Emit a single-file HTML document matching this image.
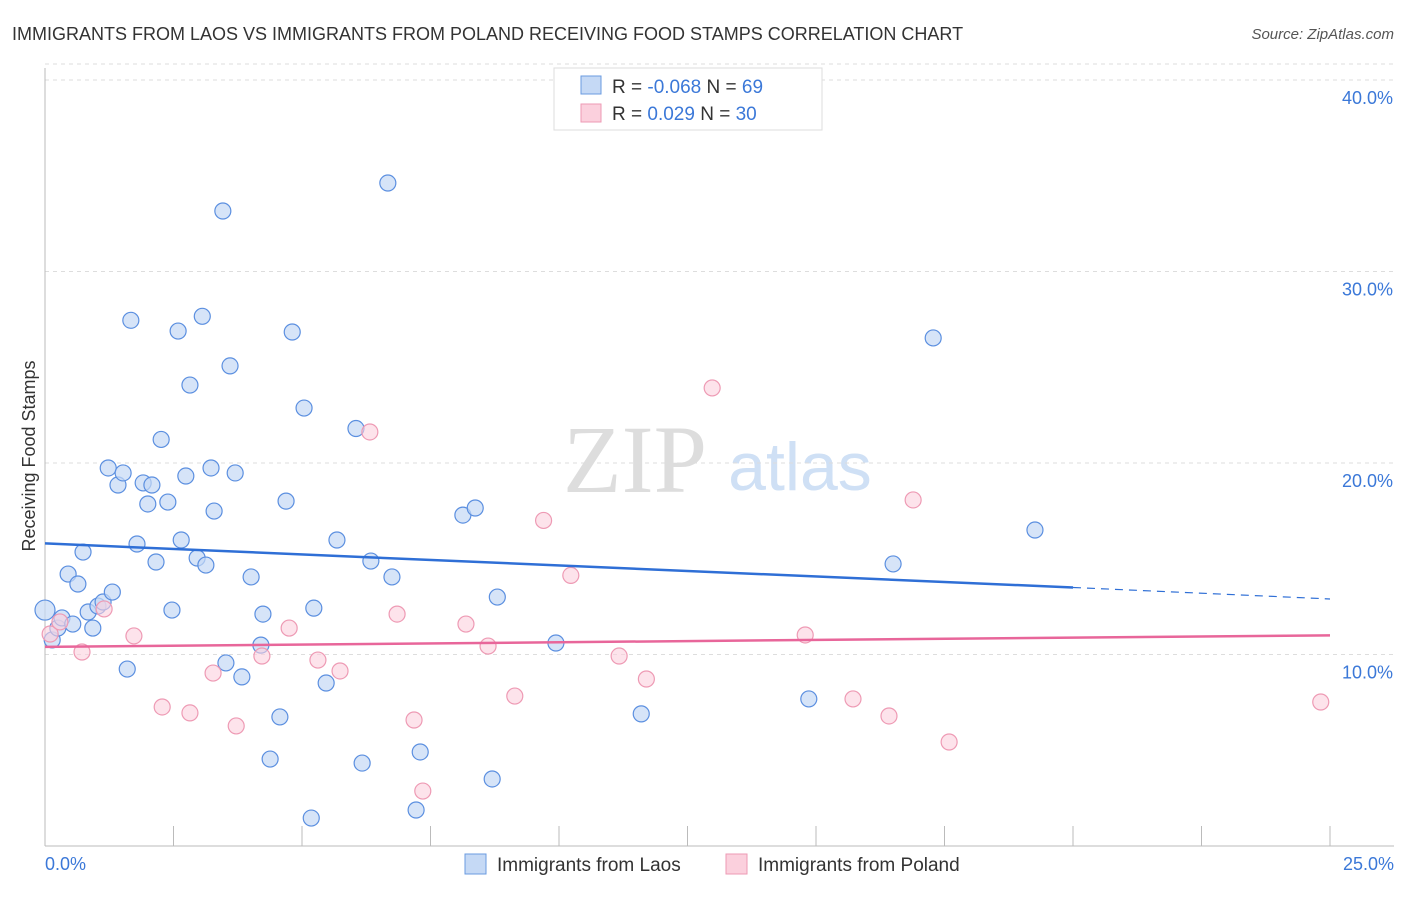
<!DOCTYPE html>
<html><head><meta charset="utf-8"><style>
body{margin:0;background:#fff;font-family:"Liberation Sans",sans-serif;}
</style></head><body>
<svg id="chart" width="1406" height="892" xmlns="http://www.w3.org/2000/svg" style="font-family:'Liberation Sans',sans-serif">
<text x="12" y="40" font-size="18" fill="#333">IMMIGRANTS FROM LAOS VS IMMIGRANTS FROM POLAND RECEIVING FOOD STAMPS CORRELATION CHART</text>
<text x="1394" y="39" font-size="15" fill="#555" font-style="italic" text-anchor="end">Source: ZipAtlas.com</text>
<text x="635" y="492" font-size="96" fill="#ddd" font-family="Liberation Serif" text-anchor="middle">ZIP</text>
<text x="800" y="490" font-size="68" fill="#cfe0f5" text-anchor="middle">atlas</text>
<g id="grid"></g>
<line x1="45" y1="68" x2="45" y2="846" stroke="#bbb"/>
<line x1="45" y1="846" x2="1394" y2="846" stroke="#bbb"/>
<text x="35" y="456" font-size="18" fill="#333" text-anchor="middle" transform="rotate(-90 35 456)">Receiving Food Stamps</text>
<text x="45" y="870" font-size="18" fill="#3b78d8">0.0%</text>
<text x="1394" y="870" font-size="18" fill="#3b78d8" text-anchor="end">25.0%</text>
<g id="marks"></g>
<g>
<rect x="554" y="68" width="268" height="62" fill="#fff" stroke="#ddd"/>
<rect x="581" y="76" width="20" height="18" fill="#c5d9f5" stroke="#6a9be0"/>
<rect x="581" y="104" width="20" height="18" fill="#fbd0dd" stroke="#ee9ab4"/>
<text x="612" y="93" font-size="19" fill="#333">R = <tspan fill="#3b78d8">-0.068</tspan>   N = <tspan fill="#3b78d8">69</tspan></text>
<text x="612" y="120" font-size="19" fill="#333">R =  <tspan fill="#3b78d8"> 0.029</tspan>   N = <tspan fill="#3b78d8">30</tspan></text>
</g>
<g>
<rect x="465" y="854" width="21" height="20" fill="#c5d9f5" stroke="#6a9be0"/>
<text x="497" y="871" font-size="19" fill="#333">Immigrants from Laos</text>
<rect x="726" y="854" width="21" height="20" fill="#fbd0dd" stroke="#ee9ab4"/>
<text x="758" y="871" font-size="19" fill="#333">Immigrants from Poland</text>
</g>
</svg>
<script>
const yTicks=[10,20,30,40];
const yTickLabels=["10.0%","20.0%","30.0%","40.0%"];
const xTicks=[0,2.5,5,7.5,10,12.5,15,17.5,20,22.5,25];
const laosX=[0,0.14,0.25,0.33,0.54,0.45,0.64,0.74,0.84,0.93,1.03,1.13,1.31,1.23,1.42,1.52,1.6,1.67,1.79,1.91,2.08,2.0,2.16,2.26,2.39,2.47,2.59,2.65,2.74,2.82,2.96,3.06,3.13,3.23,3.29,3.46,3.52,3.6,3.7,3.83,4.01,4.2,4.24,4.38,4.57,4.69,4.81,5.04,5.18,5.23,5.47,5.68,6.05,6.17,6.34,6.67,6.75,7.22,7.3,8.13,8.37,8.7,8.8,9.94,11.6,14.86,16.5,17.28,19.26];
const laosY=[12.32,10.76,11.38,11.91,11.59,14.2,13.68,15.35,12.22,11.38,12.53,12.74,13.26,19.74,18.85,19.48,9.24,27.45,15.77,18.96,18.85,17.86,14.83,21.23,17.96,12.32,26.89,15.98,19.32,24.07,15.04,27.66,14.67,19.74,17.49,33.16,9.56,25.07,19.48,8.83,14.05,10.49,12.11,4.54,6.74,18.01,26.84,22.87,1.46,12.42,8.51,15.98,21.8,4.33,14.88,34.62,14.05,1.88,4.91,17.28,17.65,3.5,13.0,10.6,6.9,7.68,14.73,26.53,16.5];
const polandX=[0.1,0.29,0.72,1.15,1.73,2.28,2.82,3.27,3.72,4.22,4.75,5.31,5.74,6.32,6.85,7.18,7.35,8.19,8.62,9.14,9.7,10.23,11.17,11.7,12.98,14.79,15.72,16.42,16.89,17.59,24.82];
const polandY=[11.07,11.7,10.13,12.38,10.97,7.26,6.95,9.03,6.27,9.92,11.38,9.71,9.14,21.62,12.11,6.58,2.87,11.59,10.44,7.83,17.0,14.13,9.92,8.72,23.92,11.02,7.68,6.79,18.07,5.43,7.52];
const laosTrend=[15.8,13.5,12.9];
const polandTrend=[10.4,10.6,11.0];
const X=v=>45+v*51.4, Y=v=>846-v*19.15;
const NS="http://www.w3.org/2000/svg";
function mk(t,a,p){const e=document.createElementNS(NS,t);for(const k in a)e.setAttribute(k,a[k]);p.appendChild(e);return e;}
const grid=document.getElementById('grid'), marks=document.getElementById('marks');
yTicks.forEach((t,i)=>{
 const g=mk('line',{x1:45,x2:1394,y1:Y(t),y2:Y(t),stroke:'#ddd','stroke-dasharray':'4,4'},grid);
 
 
 const l=mk('text',{x:1393,y:Y(t)+24,'font-size':18,fill:'#3b78d8','text-anchor':'end'},grid);
 l.textContent=yTickLabels[i];
 
 
});
mk('line',{x1:45,x2:1394,y1:Y(40)-16,y2:Y(40)-16,stroke:'#ddd','stroke-dasharray':'4,4'},grid);
xTicks.forEach(t=>{
 const k=mk('line',{x1:X(t),x2:X(t),y1:826,y2:846,stroke:'#bbb'},grid);
 
 
});
laosX.forEach((x,i)=>{
 const c=mk('circle',{cx:X(x),cy:Y(laosY[i]),r:i==0?10:8,fill:'#c5d9f5','fill-opacity':0.7,stroke:'#5b8fe0','stroke-width':1.2},marks);
 
 
});
polandX.forEach((x,i)=>{
 const c=mk('circle',{cx:X(x),cy:Y(polandY[i]),r:8,fill:'#fbd0dd','fill-opacity':0.6,stroke:'#ee9ab4','stroke-width':1.2},marks);
 
 
});
const l1=mk('line',{x1:X(0),y1:Y(laosTrend[0]),x2:X(20),y2:Y(laosTrend[1]),stroke:'#2f6fd6','stroke-width':2.5},marks);


const l2=mk('line',{x1:X(20),y1:Y(laosTrend[1]),x2:X(25),y2:Y(laosTrend[2]),stroke:'#2f6fd6','stroke-width':1.2,'stroke-dasharray':'8,6'},marks);


const l3=mk('line',{x1:X(0),y1:Y(polandTrend[0]),x2:X(25),y2:Y(polandTrend[2]),stroke:'#e8669a','stroke-width':2.5},marks);


</script>
</body></html>
